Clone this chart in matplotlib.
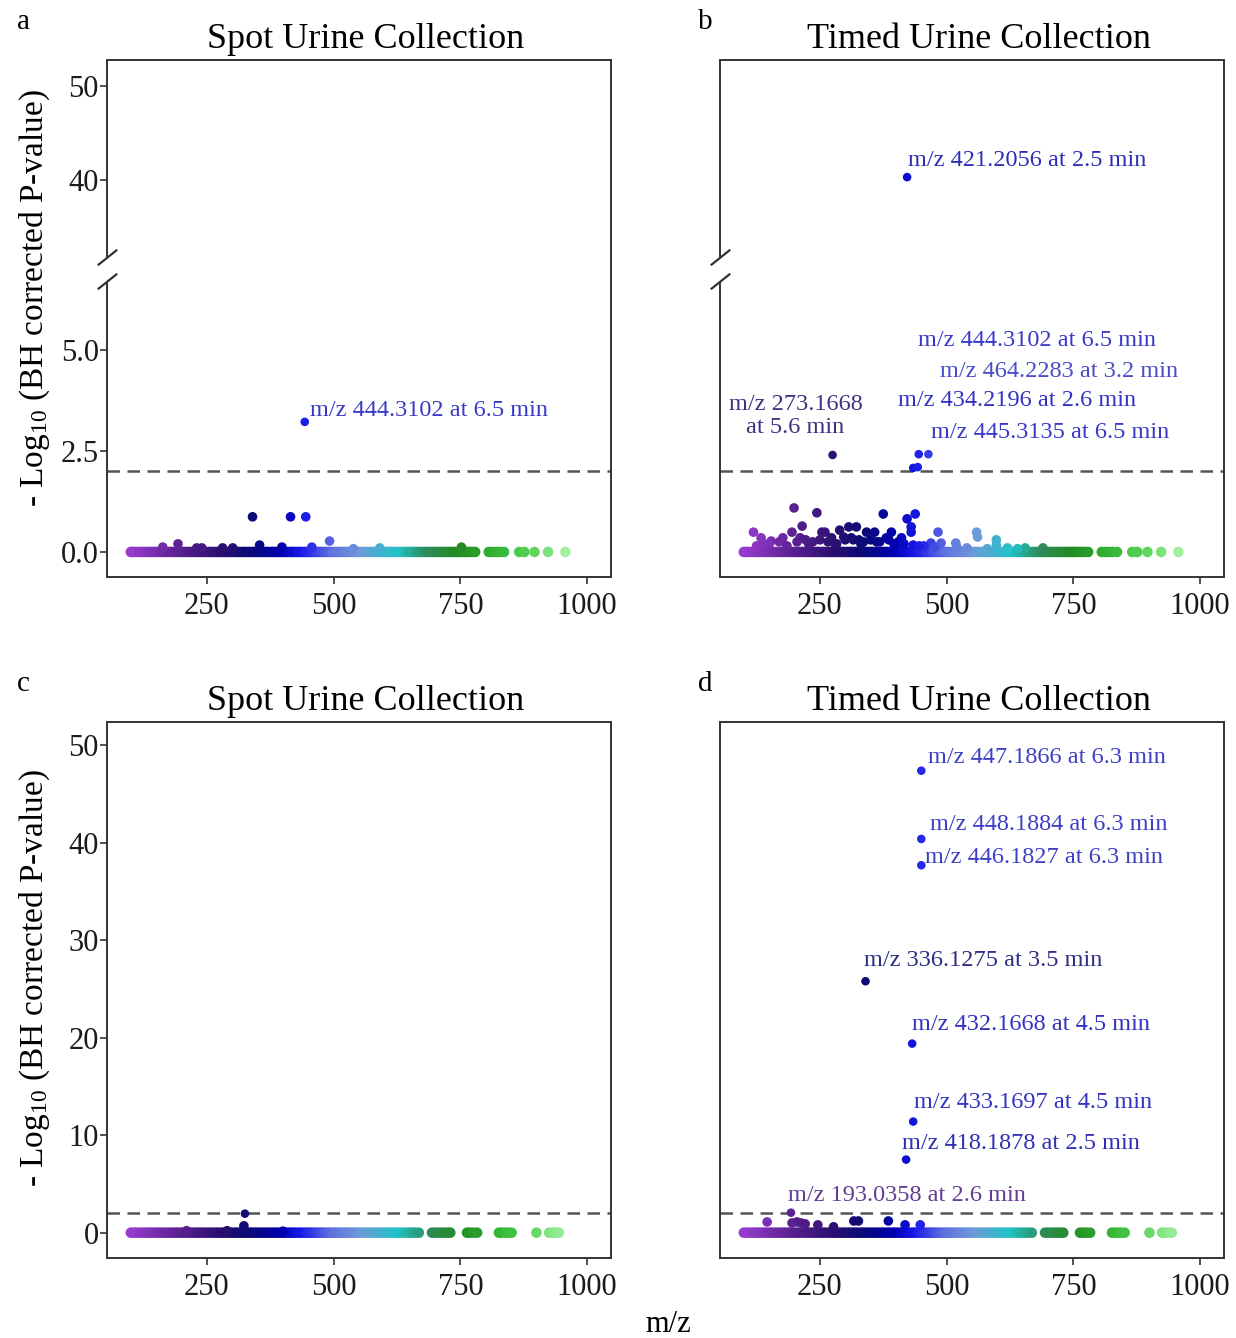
import numpy as np
import matplotlib
matplotlib.use('Agg')
import matplotlib.pyplot as plt
from matplotlib.colors import LinearSegmentedColormap, Normalize

plt.rcParams['font.family'] = ['Liberation Serif', 'DejaVu Serif']
plt.rcParams['mathtext.fontset'] = 'custom'
plt.rcParams['mathtext.rm'] = 'Liberation Serif'

# ---- data ----
# features that sit on the zero line, top row (a, b)
mz_base_ab = [100, 104, 109, 115, 120, 126, 131, 137, 142, 148, 153, 159, 164, 170, 176,
              181, 187, 192, 198, 203, 209, 215, 220, 226, 231, 237, 243, 248, 254, 259,
              265, 271, 276, 282, 287, 293, 298, 304, 310, 315, 321, 326, 332, 338, 343,
              349, 354, 360, 366, 371, 377, 382, 388, 393, 399, 405, 410, 416, 421, 427,
              433, 438, 444, 449, 455, 461, 466, 472, 477, 483, 489, 494, 500, 505, 511,
              517, 522, 528, 533, 539, 545, 550, 556, 561, 567, 573, 578, 584, 589, 595,
              601, 606, 612, 617, 623, 629, 634, 640, 645, 651, 657, 662, 668, 673, 679,
              685, 690, 696, 701, 707, 712, 718, 723, 728, 733, 738, 743, 748, 753, 758,
              763, 768, 773, 779, 806, 813, 821, 828, 836, 866, 876, 896, 923, 957]
# features that sit on the zero line, bottom row (c, d)
mz_base_cd = [100, 105, 110, 116, 121, 127, 132, 138, 143, 149, 154, 160, 165, 171, 177,
              182, 188, 193, 199, 204, 210, 216, 221, 227, 232, 238, 243, 249, 255, 260,
              266, 271, 277, 282, 288, 294, 299, 305, 310, 316, 321, 327, 333, 338, 344,
              349, 355, 360, 366, 372, 377, 383, 388, 394, 399, 405, 411, 416, 422, 427,
              433, 438, 444, 450, 455, 461, 466, 472, 477, 483, 489, 494, 500, 505, 511,
              516, 522, 528, 533, 539, 544, 550, 555, 561, 567, 572, 578, 583, 589, 594,
              600, 606, 611, 617, 622, 628, 633, 639, 645, 650, 656, 661, 668, 694, 700,
              707, 713, 719, 725, 730, 763, 769, 776, 783, 826, 832, 839, 845, 851, 900,
              925, 932, 939, 944]

# small raised features (not labelled)
a_mz = [163, 193, 230, 240, 281, 301, 354, 398, 457, 539, 591, 752, 340, 415, 445, 492]
a_y = [0.12, 0.2, 0.1, 0.1, 0.1, 0.1, 0.17, 0.12, 0.12, 0.08, 0.1, 0.12, 0.87, 0.87, 0.87, 0.27]

b_mz = [199, 244, 215, 195, 119, 134, 154, 177, 211, 254, 260, 289, 307, 322, 297, 273,
        342, 358, 375, 391, 381, 411, 422, 438, 430, 430, 434, 483, 469, 489, 518, 559,
        561, 598, 598, 655, 690, 150, 170, 228, 236, 283, 316, 331, 368, 400, 455, 520,
        125, 140, 185, 205, 222, 250, 266, 280, 300, 312, 327, 336, 350, 362, 386, 396,
        405, 416, 446, 476, 540, 580, 620, 640]
b_y = [1.09, 0.97, 0.64, 0.49, 0.49, 0.35, 0.27, 0.35, 0.35, 0.49, 0.49, 0.54, 0.62, 0.62,
       0.37, 0.35, 0.49, 0.49, 0.94, 0.49, 0.35, 0.35, 0.82, 0.94, 0.62, 0.49, 0.17, 0.49,
       0.22, 0.22, 0.22, 0.49, 0.37, 0.3, 0.17, 0.1, 0.1, 0.2, 0.25, 0.2, 0.25, 0.2, 0.3,
       0.2, 0.25, 0.2, 0.15, 0.12,
       0.15, 0.2, 0.15, 0.25, 0.3, 0.3, 0.25, 0.2, 0.3, 0.35, 0.3, 0.25, 0.3, 0.25, 0.3, 0.2,
       0.25, 0.2, 0.15, 0.12, 0.1, 0.08, 0.1, 0.08]

c_mz = [323, 210, 290, 400]
c_y = [0.7, 0.2, 0.2, 0.15]

d_mz = [146, 195, 205, 213, 221, 246, 277, 317, 326, 385, 418, 448]
d_y = [1.1, 1.0, 1.1, 1.0, 0.9, 0.8, 0.6, 1.2, 1.2, 1.2, 0.8, 0.8]

# significant, labelled features
a_sig_mz = [443]
a_sig_y = [3.22]
a_sig_lab = ['m/z 444.3102 at 6.5 min']

b_sig_mz = [422, 275, 434, 443, 445, 464]
b_sig_y = [40.3, 2.4, 2.08, 2.1, 2.42, 2.42]
b_sig_lab = ['m/z 421.2056 at 2.5 min', 'm/z 273.1668\nat 5.6 min', 'm/z 434.2196 at 2.6 min',
             'm/z 444.3102 at 6.5 min', 'm/z 445.3135 at 6.5 min', 'm/z 464.2283 at 3.2 min']

c_sig_mz = [325]
c_sig_y = [1.95]
c_sig_lab = ['']

d_sig_mz = [450, 450, 450, 340, 432, 434, 420, 193]
d_sig_y = [47.4, 40.4, 37.7, 25.8, 19.4, 11.4, 7.5, 2.05]
d_sig_lab = ['m/z 447.1866 at 6.3 min', 'm/z 448.1884 at 6.3 min', 'm/z 446.1827 at 6.3 min',
             'm/z 336.1275 at 3.5 min', 'm/z 432.1668 at 4.5 min', 'm/z 433.1697 at 4.5 min',
             'm/z 418.1878 at 2.5 min', 'm/z 193.0358 at 2.6 min']

threshold = 2.0
titles = ['Spot Urine Collection', 'Timed Urine Collection',
          'Spot Urine Collection', 'Timed Urine Collection']
panel_letters = ['a', 'b', 'c', 'd']

# ---- colours by m/z ----
anchors = [(100, '#9A3CD2'), (200, '#5A2090'), (280, '#2A1070'), (340, '#0A0A78'),
           (400, '#0000B0'), (440, '#1818E8'), (500, '#6070E0'), (560, '#6C9CD8'),
           (630, '#20C4C8'), (690, '#2E8B5A'), (750, '#228B22'), (820, '#30B030'),
           (880, '#50D050'), (960, '#A0F0A0')]
lo, hi = anchors[0][0], anchors[-1][0]
cmap = LinearSegmentedColormap.from_list(
    'mz', [((m - lo) / (hi - lo), c) for m, c in anchors])
norm = Normalize(lo, hi)

# ---- broken y scale for top row ----
B1, B2, GAP = 6.7, 31.8, 0.6
K = 9.4 / 40.4
GAPK = GAP / (B2 - B1)


def fwd(y):
    y = np.asarray(y, dtype=float)
    return np.where(y <= B1, y,
                    np.where(y <= B2, B1 + (y - B1) * GAPK, B1 + GAP + (y - B2) * K))


def inv(v):
    v = np.asarray(v, dtype=float)
    return np.where(v <= B1, v,
                    np.where(v <= B1 + GAP, B1 + (v - B1) / GAPK, B2 + (v - B1 - GAP) / K))


W, H = 1236, 1338
fig = plt.figure(figsize=(W / 100, H / 100), dpi=100)
fig.patch.set_facecolor('white')

SPINE = '#333333'


def px_axes(l, t, r, b):
    return fig.add_axes([l / W, 1 - b / H, (r - l) / W, (b - t) / H])


def label_colour(m):
    # labels in the original are a softer shade of the point colour
    c = np.array(cmap(norm(m))[:3])
    return tuple(0.62 * c + 0.38 * np.array([0.40, 0.40, 0.58]))


boxes = [(107, 60, 611, 577), (720, 60, 1224, 577),
         (107, 722, 611, 1258), (720, 722, 1224, 1258)]

panels = [
    (a_mz, a_y, a_sig_mz, a_sig_y, a_sig_lab, mz_base_ab),
    (b_mz, b_y, b_sig_mz, b_sig_y, b_sig_lab, mz_base_ab),
    (c_mz, c_y, c_sig_mz, c_sig_y, c_sig_lab, mz_base_cd),
    (d_mz, d_y, d_sig_mz, d_sig_y, d_sig_lab, mz_base_cd),
]

# label offsets in pixels (dx, dy) from the point, per panel
label_offsets = [
    [(5, 11)],
    [(1, 17), (-37, 39), (-15, 67), (0, 127), (12, 22), (12, 83)],
    [None],
    [(7, 13), (9, 14), (4, 8), (-2, 21), (0, 19), (1, 19), (-4, 16), (-3, 17)],
]

for i, (mz, yv, smz, sy, slab, base) in enumerate(panels):
    ax = px_axes(*boxes[i])
    broken = i < 2
    left_col = i % 2 == 0
    if broken:
        ax.set_yscale('function', functions=(fwd, inv))
        ax.set_ylim(-0.62, 52.76)
        ax.set_yticks([0, 2.5, 5, 40, 50])
        ax.set_yticklabels(['0.0', '2.5', '5.0', '40', '50'])
    else:
        ax.set_ylim(-2.6, 52.4)
        ax.set_yticks([0, 10, 20, 30, 40, 50])
    ax.set_xlim(53, 1047)
    ax.set_xticks([250, 500, 750, 1000])

    ax.axhline(threshold, color='#555555', lw=1.8, ls=(0, (5, 3)), zorder=2)

    ax.scatter(base, np.zeros(len(base)), c=cmap(norm(base)), s=58,
               edgecolors='none', zorder=3)
    ax.scatter(mz, yv, c=cmap(norm(mz)), s=48, edgecolors='none', zorder=3)
    ax.scatter(smz, sy, c=cmap(norm(smz)), s=38, edgecolors='none', zorder=4)

    for j, lab in enumerate(slab):
        if not lab:
            continue
        dx, dy = label_offsets[i][j]
        ha = 'center' if '\n' in lab else 'left'
        ax.annotate(lab, (smz[j], sy[j]), xytext=(dx, dy), textcoords='offset pixels',
                    ha=ha, va='center', fontsize=17.5, color=label_colour(smz[j]),
                    linespacing=1.15, zorder=5)

    for side in ['top', 'right', 'bottom', 'left']:
        ax.spines[side].set_color(SPINE)
        ax.spines[side].set_linewidth(1.4)
    ax.tick_params(direction='out', length=5, width=1.2, color=SPINE,
                   labelsize=22, pad=1, labelcolor='#1a1a1a')
    ax.tick_params(axis='x', pad=6)
    if not left_col:
        ax.tick_params(axis='y', left=False, labelleft=False)

    if broken:
        ax.spines['left'].set_visible(False)
        tr = ax.get_yaxis_transform()
        ax.plot([0, 0], [-0.62, B1], transform=tr, color=SPINE, lw=1.4,
                clip_on=False, solid_capstyle='butt')
        ax.plot([0, 0], [B2, 52.76], transform=tr, color=SPINE, lw=1.4,
                clip_on=False, solid_capstyle='butt')
        ax.plot([0, 0], [B1, B2], transform=tr, ls='none',
                marker=[(-1, -0.8), (1, 0.8)], ms=14, mec=SPINE, mew=1.6,
                clip_on=False)

    l, t, r, b = boxes[i]
    fig.text((l + r) / 2 / W + 7 / W, 1 - (t - 20) / H, titles[i], ha='center',
             va='center', fontsize=26)
    fig.text((l - 90) / W if left_col else (l - 22) / W, 1 - (t - 38) / H,
             panel_letters[i], ha='left', va='center', fontsize=21)

ylab = r'- Log$\mathregular{_{10}}$ (BH corrected P-value)'
fig.text(35 / W, 1 - 298 / H, ylab, rotation=90, ha='center', va='center', fontsize=24)
fig.text(35 / W, 1 - 978 / H, ylab, rotation=90, ha='center', va='center', fontsize=24)
fig.text(668 / W, 1 - 1325 / H, 'm/z', ha='center', va='center', fontsize=22)

fig.savefig('out.png', dpi=100, facecolor='white')
